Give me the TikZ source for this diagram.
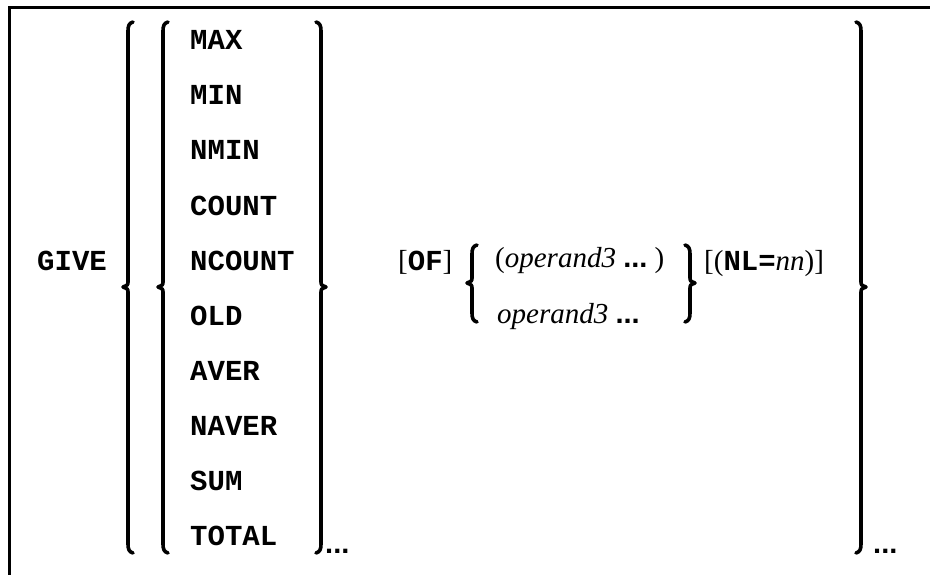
\documentclass[tikz,border=0pt]{standalone}
\usepackage{fontspec}
\setmainfont{Liberation Serif}
\newfontfamily\courfont{Liberation Mono}
\newfontfamily\dotfont{Liberation Sans}
% #1 = x, #2 = top, #3 = middle, #4 = bottom, #5 = 1 (left brace) or -1 (right brace)
\newcommand\mybrace[5]{%
  \draw[bracestyle] ({#1+5*#5},#2) .. controls ({#1+1*#5},{#2+1}) and (#1,{#2+4}) .. (#1,{#2+9})
    -- (#1,{#3-6}) .. controls (#1,{#3-2}) .. ({#1-5*#5},#3)
    .. controls (#1,{#3+2}) .. (#1,{#3+6})
    -- (#1,{#4-9}) .. controls (#1,{#4-4}) and ({#1+1*#5},{#4-1}) .. ({#1+5*#5},#4);}
\newcommand\bdots{{\dotfont\bfseries ...}}
\begin{document}
\begin{tikzpicture}[x=1pt,y=-1pt,
  kw/.style={anchor=base west,inner sep=0pt,font=\fontsize{29}{29}\selectfont\courfont\bfseries},
  txt/.style={anchor=base west,inner sep=0pt,font=\fontsize{29}{29}\selectfont},
  bracestyle/.style={line width=3.6pt,line cap=round,line join=round},
  frame/.style={line width=3pt}]
\useasboundingbox (0,0) rectangle (930,575);
\fill[white] (0,0) rectangle (930,575);
% frame (cut at right and bottom)
\draw[frame] (930,7.5) -- (9.5,7.5) -- (9.5,575);
% keyword GIVE
\node[kw] (give) at (37,270) {GIVE};
% function list
\node[kw] (max)    at (190,50)  {MAX};
\node[kw] (min)    at (190,105) {MIN};
\node[kw] (nmin)   at (190,160) {NMIN};
\node[kw] (count)  at (190,215) {COUNT};
\node[kw] (ncount) at (190,270) {NCOUNT};
\node[kw] (old)    at (190,325) {OLD};
\node[kw] (aver)   at (190,380) {AVER};
\node[kw] (naver)  at (190,435) {NAVER};
\node[kw] (sum)    at (190,490) {SUM};
\node[kw] (total)  at (190,545) {TOTAL};
% braces
\mybrace{128}{22}{287}{553}{1}
\mybrace{163}{22}{287}{553}{1}
\mybrace{321}{22}{287}{553}{-1}
\mybrace{861}{22}{287}{553}{-1}
\mybrace{472}{245}{283}{322}{1}
\mybrace{690}{245}{283}{322}{-1}
% repetition dots
\node[txt] (dotsA) at (325,553) {\bdots};
\node[txt] (dotsB) at (873,553) {\bdots};
% OF part
\node[txt] (of) at (398,270) {[{\courfont\bfseries OF}]};
\node[txt] (opA) at (495,268) {(\textit{operand3} \bdots\ )};
\node[txt] (opB) at (497,323) {\textit{operand3} \bdots};
\node[txt] (nl) at (704,270) {[({\courfont\bfseries NL=}\textit{nn})]};
\end{tikzpicture}
\end{document}
